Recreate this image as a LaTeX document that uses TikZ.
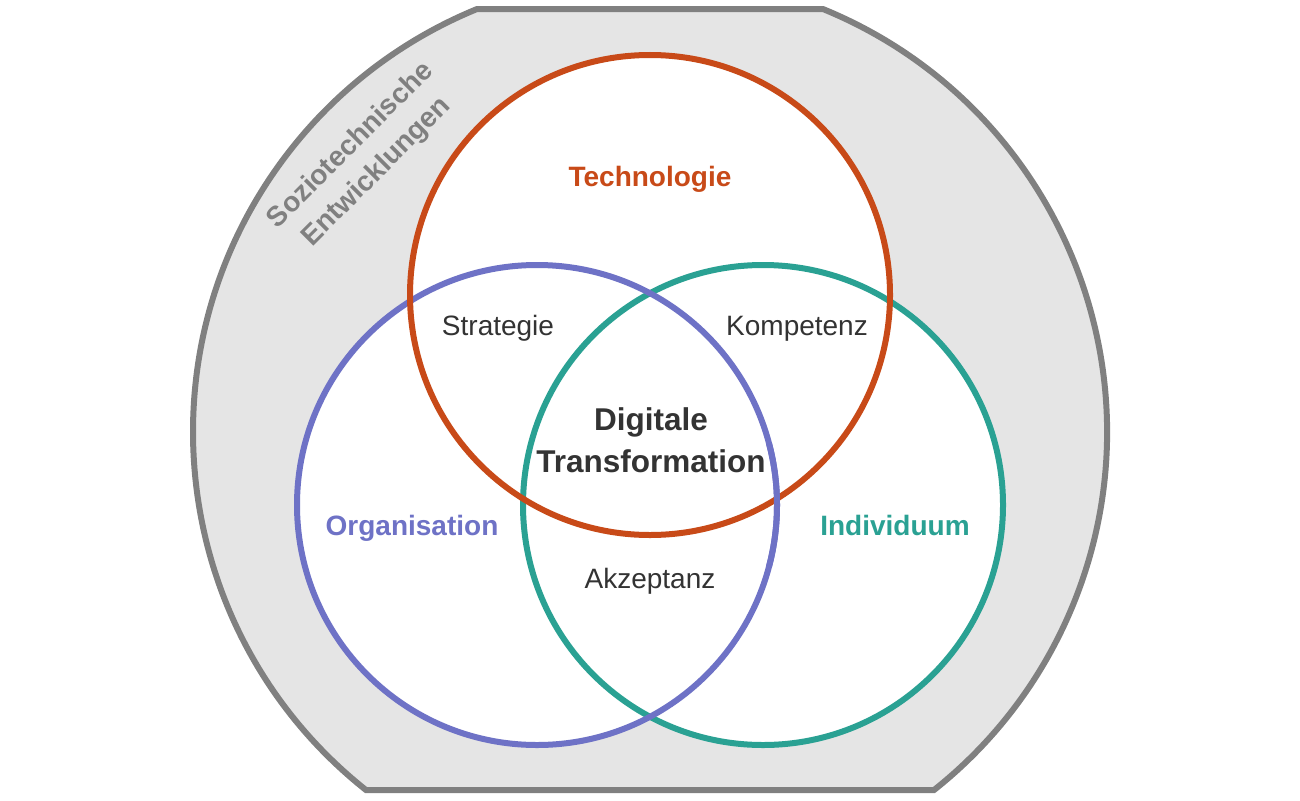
\documentclass[tikz,border=0pt]{standalone}
\usepackage{fontspec}
\setmainfont{Liberation Sans}
\usetikzlibrary{calc}
\definecolor{cred}{HTML}{C84A18}
\definecolor{cblue}{HTML}{6E72C6}
\definecolor{cteal}{HTML}{2AA193}
\definecolor{cgray}{HTML}{808080}
\definecolor{cfill}{HTML}{E5E5E5}
\definecolor{ctext}{HTML}{333333}
\begin{document}
\begin{tikzpicture}[x=1pt,y=-1pt,
  ring/.style={line width=6pt},
  lbl/.style={font=\fontsize{28}{34}\selectfont, text=ctext, inner sep=0pt},
  blbl/.style={font=\bfseries\fontsize{28}{34}\selectfont, inner sep=0pt}]
\useasboundingbox (0,0) rectangle (1300,800);
\coordinate (G) at (650,432);
\coordinate (R) at (650,295);
\coordinate (B) at (537,505);
\coordinate (T) at (763,505);
% outer socio-technical shape
\draw[ring, draw=cgray, fill=cfill, line join=miter]
  ($(G)+(-67.75:457)$) arc[start angle=-67.75, end angle=51.6, radius=457]
  -- ($(G)+(128.4:457)$) arc[start angle=128.4, end angle=247.75, radius=457]
  -- cycle;
% white interiors
\fill[white] (R) circle[radius=240];
\fill[white] (B) circle[radius=240];
\fill[white] (T) circle[radius=240];
% rings
\draw[ring, cteal] (T) circle[radius=240];
\draw[ring, cblue] (B) circle[radius=240];
\draw[ring, cred] (R) circle[radius=240];
\draw[ring, cblue] ($(B)+(-15:240)$) arc[start angle=-15, end angle=15, radius=240];
% labels
\node[blbl, text=cred, anchor=base] (tech) at (650,186) {Technologie};
\node[lbl, anchor=base] (strat) at (498,335) {Strategie};
\node[lbl, anchor=base] (komp) at (797,335) {Kompetenz};
\node[blbl, text=ctext, align=center, font=\bfseries\fontsize{31.5}{42}\selectfont] (dt) at (651,440) {Digitale\\Transformation};
\node[blbl, text=cblue, anchor=base] (org) at (412,535) {Organisation};
\node[blbl, text=cteal, anchor=base] (ind) at (895,535) {Individuum};
\node[lbl, anchor=base] (akz) at (650,588) {Akzeptanz};
\node[blbl, text=cgray, rotate=45, align=center, font=\bfseries\fontsize{28}{37}\selectfont] (sozio) at (364,159) {Soziotechnische\\Entwicklungen};
\end{tikzpicture}
\end{document}
